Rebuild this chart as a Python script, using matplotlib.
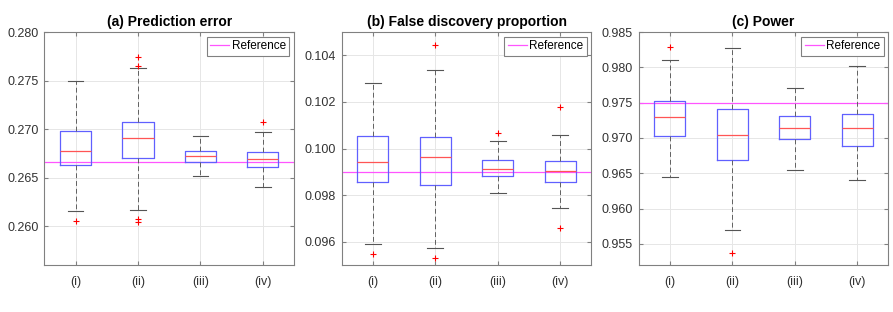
import matplotlib
matplotlib.use('Agg')
import matplotlib.pyplot as plt

plt.rcParams['font.family'] = ['Liberation Sans', 'DejaVu Sans']

groups = ['(i)', '(ii)', '(iii)', '(iv)']

# (a) Prediction error: whislo, q1, med, q3, whishi, outliers
pe_lo = [0.26155, 0.26162, 0.26520, 0.26406]
pe_q1 = [0.26627, 0.26706, 0.26657, 0.26613]
pe_med = [0.26778, 0.26905, 0.26719, 0.26692]
pe_q3 = [0.26978, 0.27074, 0.26775, 0.26764]
pe_hi = [0.27500, 0.27625, 0.26933, 0.26967]
pe_out = [[0.26052], [0.27742, 0.27652, 0.26076, 0.26041], [], [0.27071]]
pe_ref = 0.26664

# (b) False discovery proportion
fdp_lo = [0.09589, 0.09574, 0.09808, 0.09744]
fdp_q1 = [0.09855, 0.09842, 0.09883, 0.09858]
fdp_med = [0.09943, 0.09964, 0.09912, 0.09903]
fdp_q3 = [0.10053, 0.10048, 0.09950, 0.09946]
fdp_hi = [0.10280, 0.10337, 0.10031, 0.10057]
fdp_out = [[0.09546], [0.10444, 0.09529], [0.10068], [0.10179, 0.09658]]
fdp_ref = 0.0990

# (c) Power
pw_lo = [0.96441, 0.95701, 0.96539, 0.96399]
pw_q1 = [0.97031, 0.96689, 0.96989, 0.96881]
pw_med = [0.97293, 0.97040, 0.97143, 0.97139]
pw_q3 = [0.97522, 0.97415, 0.97307, 0.97345]
pw_hi = [0.98108, 0.98267, 0.97705, 0.98023]
pw_out = [[0.98286], [0.95364], [], []]
pw_ref = 0.975

panels = [
    ('(a) Prediction error', pe_lo, pe_q1, pe_med, pe_q3, pe_hi, pe_out, pe_ref,
     (0.256, 0.280), [0.260, 0.265, 0.270, 0.275, 0.280]),
    ('(b) False discovery proportion', fdp_lo, fdp_q1, fdp_med, fdp_q3, fdp_hi, fdp_out, fdp_ref,
     (0.095, 0.105), [0.096, 0.098, 0.100, 0.102, 0.104]),
    ('(c) Power', pw_lo, pw_q1, pw_med, pw_q3, pw_hi, pw_out, pw_ref,
     (0.952, 0.985), [0.955, 0.960, 0.965, 0.970, 0.975, 0.980, 0.985]),
]

lefts = [0.0496, 0.3826, 0.7152]
fig = plt.figure(figsize=(8.93, 3.12), dpi=100)

for left, (title, lo, q1, med, q3, hi, out, ref, ylim, yticks) in zip(lefts, panels):
    ax = fig.add_axes([left, 0.1506, 0.2796, 0.7468])
    stats = []
    for k in range(len(groups)):
        stats.append({'whislo': lo[k], 'q1': q1[k], 'med': med[k], 'q3': q3[k],
                      'whishi': hi[k], 'fliers': out[k], 'label': groups[k]})
    ax.bxp(stats, positions=[1, 2, 3, 4], widths=0.5, capwidths=0.25,
           boxprops=dict(color='#6060ff', lw=0.9),
           medianprops=dict(color='#ff5555', lw=0.9),
           whiskerprops=dict(color='#606060', lw=0.7, linestyle=(0, (5, 3))),
           capprops=dict(color='#555555', lw=0.8),
           flierprops=dict(marker='+', markeredgecolor='red', markersize=4, markeredgewidth=0.8))
    ax.axhline(ref, color='#ff55ff', lw=0.9, label='Reference', zorder=1)
    ax.set_xlim(0.5, 4.5)
    ax.set_ylim(*ylim)
    ax.set_yticks(yticks)
    ax.set_yticklabels(['%.3f' % v for v in yticks])
    ax.set_title(title, fontsize=10, fontweight='bold', pad=4)
    ax.grid(True, color='#e6e6e6', lw=0.7)
    ax.set_axisbelow(True)
    ax.tick_params(direction='in', length=3, top=True, right=True, labelsize=9,
                   colors='#808080', labelcolor='#333333', pad=4)
    ax.tick_params(axis='x', pad=8)
    for sp in ax.spines.values():
        sp.set_color('#808080')
        sp.set_linewidth(0.8)
    leg = ax.legend(loc='upper right', fontsize=8.5, handlelength=1.6, borderpad=0.3,
                    borderaxespad=0.4, fancybox=False, framealpha=1, handletextpad=0.2)
    leg.get_frame().set_edgecolor('#808080')
    leg.get_frame().set_linewidth(0.8)

fig.savefig('out.png', dpi=100)
